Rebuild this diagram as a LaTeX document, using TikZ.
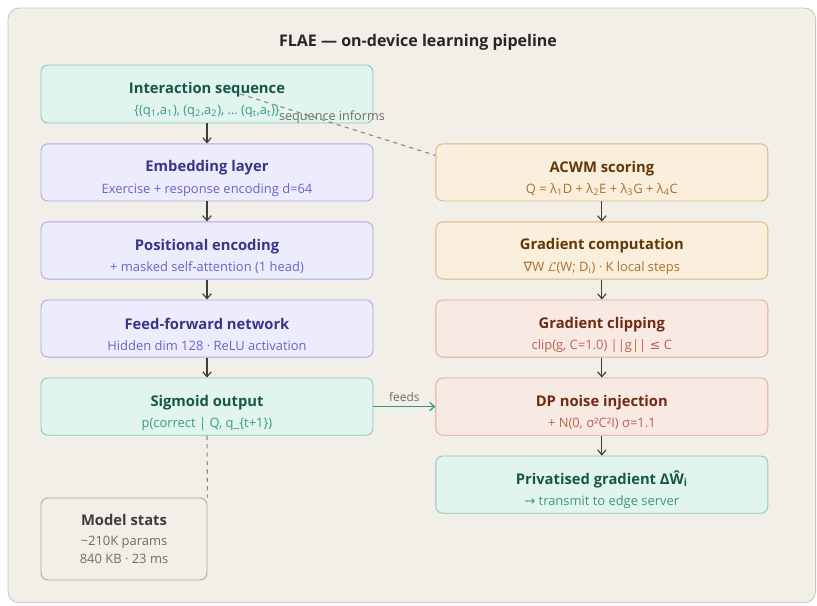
\documentclass[tikz,border=0pt]{standalone}
\usepackage{fontspec}
\setmainfont{Open Sans}
\newfontfamily\symfont{DejaVu Sans}
\usetikzlibrary{calc,arrows.meta,positioning}
\definecolor{panelbg}{HTML}{F2EFE9}
\definecolor{panelln}{HTML}{C9C5BD}
\definecolor{grnF}{HTML}{E1F4EE}
\definecolor{grnD}{HTML}{86C9B4}
\definecolor{grnT}{HTML}{17574A}
\definecolor{grnS}{HTML}{3A9A80}
\definecolor{purF}{HTML}{EDECFC}
\definecolor{purD}{HTML}{ABA5EA}
\definecolor{purT}{HTML}{3C3489}
\definecolor{purS}{HTML}{6B62C8}
\definecolor{ornF}{HTML}{FAEEDC}
\definecolor{ornD}{HTML}{DDB47E}
\definecolor{ornT}{HTML}{633806}
\definecolor{ornS}{HTML}{A8722E}
\definecolor{corF}{HTML}{F9E9E3}
\definecolor{corD}{HTML}{E3A897}
\definecolor{corT}{HTML}{712B13}
\definecolor{corS}{HTML}{B8644E}
\definecolor{gryD}{HTML}{A9A59D}
\definecolor{gryT}{HTML}{3D3D3A}
\definecolor{gryS}{HTML}{6F6D67}
\definecolor{feedc}{HTML}{2E9C7A}
\newcommand{\boxlabel}[3]{\rule{0pt}{16.5pt}{\bfseries\fontsize{10.5}{12}\selectfont #1}\\[3pt]{\fontsize{9.2}{11}\selectfont\color{#2}#3}}
\newcommand{\sublabel}[2]{{\fontsize{9.2}{11}\selectfont\color{#1}#2}}
\newcommand{\sym}[1]{{\symfont #1}}

\begin{document}
\begin{tikzpicture}[>={Straight Barb[length=3.5pt,width=6pt]},node distance=0.5cm,
  box/.style={draw,rounded corners=5pt,line width=0.6pt,minimum width=8.3cm,minimum height=1.43cm,align=center,inner sep=2pt},
  seqbox/.style={box,fill=grnF,draw=grnD,text=grnT},
  netbox/.style={box,fill=purF,draw=purD,text=purT},
  scorebox/.style={box,fill=ornF,draw=ornD,text=ornT},
  privbox/.style={box,fill=corF,draw=corD,text=corT},
  statsbox/.style={box,fill=panelbg,draw=gryD,text=gryT,minimum width=4.15cm,minimum height=2.05cm},
  flow/.style={->,draw=gryT,line width=0.8pt},
  informs/.style={draw=gryS!80,line width=0.8pt,dash pattern=on 3pt off 3pt}]

  \useasboundingbox (0,0) rectangle (20.425,-15.15);
  \draw[fill=panelbg,draw=panelln,line width=0.6pt,rounded corners=8pt] (0.2,-0.2) rectangle (20.39,-15.07);

  \node (title) at (10.45,-1.05) {\bfseries\fontsize{11.4}{13}\selectfont\color{black!85}FLAE — on-device learning pipeline};

  \node[seqbox,minimum height=1.45cm] (seq) at (5.175,-2.35) {\boxlabel{Interaction sequence}{grnS}{\{(q\textsubscript{1},a\textsubscript{1}), (q\textsubscript{2},a\textsubscript{2}), … (q\textsubscript{t},a\textsubscript{t})\}}};
  \node[netbox] (emb) [below=of seq] {\boxlabel{Embedding layer}{purS}{Exercise + response encoding d=64}};
  \node[netbox] (pos) [below=of emb] {\boxlabel{Positional encoding}{purS}{+ masked self-attention (1 head)}};
  \node[netbox] (ffn) [below=of pos] {\boxlabel{Feed-forward network}{purS}{Hidden dim 128 · ReLU activation}};
  \node[seqbox] (sig) [below=of ffn] {\boxlabel{Sigmoid output}{grnS}{p(correct | Q, q\_\{t+1\})}};
  \node[statsbox,anchor=north west] (stats) at ([yshift=-1.55cm]sig.south west) {{\bfseries\fontsize{10.5}{12}\selectfont Model stats}\\[2pt]\sublabel{gryS}{\char126 210K params}\\[1pt]\sublabel{gryS}{840 KB · 23 ms}};

  \node[scorebox] (acwm) [right=1.55cm of emb] {\boxlabel{ACWM scoring}{ornS}{Q = λ\textsubscript{1}D + λ\textsubscript{2}E + λ\textsubscript{3}G + λ\textsubscript{4}C}};
  \node[scorebox] (grad) [below=of acwm] {\boxlabel{Gradient computation}{ornS}{\sym{∇}W $\mathcal{L}$(W; D\textsubscript{i}) · K local steps}};
  \node[privbox] (clip) [below=of grad] {\boxlabel{Gradient clipping}{corS}{clip(g, C=1.0) ||g|| \sym{≤} C}};
  \node[privbox] (dp) [below=of clip] {\boxlabel{DP noise injection}{corS}{+ N(0, σ²C²I) σ=1.1}};
  \node[seqbox] (priv) [below=of dp] {\boxlabel{Privatised gradient ΔŴ\textsubscript{i}}{grnS}{\sym{→} transmit to edge server}};

  \draw[flow] (seq) -- (emb);
  \draw[flow] (emb) -- (pos);
  \draw[flow] (pos) -- (ffn);
  \draw[flow] (ffn) -- (sig);
  \draw[flow] (acwm) -- (grad);
  \draw[flow] (grad) -- (clip);
  \draw[flow] (clip) -- (dp);
  \draw[flow] (dp) -- (priv);

  \draw[informs] ([xshift=0.83cm]seq.center) -- node[pos=.47,above=-4pt,text=gryS,font=\fontsize{9}{10}\selectfont] {sequence informs} ([yshift=-0.3cm]acwm.north west);
  \draw[->,draw=feedc,line width=0.8pt] (sig) -- node[above,text=gryS,font=\fontsize{8.5}{10}\selectfont] {feeds} (dp);
  \draw[informs] (sig.south) -- (stats.north east);

\end{tikzpicture}
\end{document}
